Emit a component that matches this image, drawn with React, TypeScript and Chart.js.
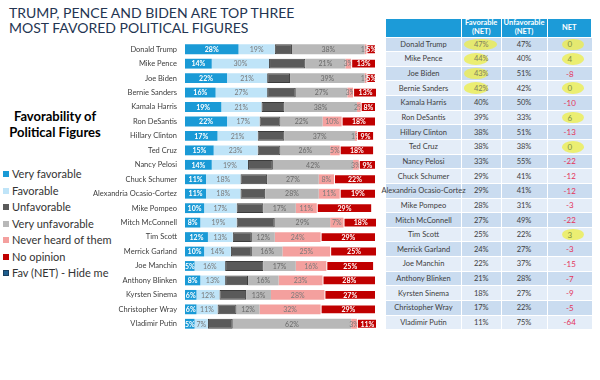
import React, { useEffect, useRef } from "react";
import { Chart, registerables } from "chart.js";
Chart.register(...registerables);

const names = ["Donald Trump","Mike Pence","Joe Biden","Bernie Sanders","Kamala Harris","Ron DeSantis","Hillary Clinton","Ted Cruz","Nancy Pelosi","Chuck Schumer","Alexandria Ocasio-Cortez","Mike Pompeo","Mitch McConnell","Tim Scott","Merrick Garland","Joe Manchin","Anthony Blinken","Kyrsten Sinema","Christopher Wray","Vladimir Putin"];
const veryFavorable = [28,14,22,16,19,22,17,15,14,11,11,10,8,12,10,5,8,6,6,5];
const favorable = [19,30,21,27,21,17,21,23,19,18,18,17,19,13,14,16,13,12,11,7];
const unfavorable = [9,19,12,15,12,11,14,12,13,14,13,14,20,10,11,20,12,14,10,13];
const veryUnfavorable = [38,21,39,27,38,22,37,26,42,27,28,17,29,12,16,17,16,13,12,62];
const neverHeard = [1,3,1,3,2,10,1,5,3,8,11,11,7,24,25,16,23,28,32,3];
const noOpinion = [5,13,5,13,8,18,9,18,9,22,19,29,18,29,25,25,28,27,29,11];
const favNet = [47,44,43,42,40,39,38,38,33,29,29,28,27,25,24,22,21,18,17,11];
const unfavNet = [47,40,51,42,50,33,51,38,55,41,41,31,49,22,27,37,28,27,22,75];
const netScore = [0,4,-8,0,-10,6,-13,0,-22,-12,-12,-3,-22,3,-3,-15,-7,-9,-5,-64];
const seriesNames = ["Very favorable","Favorable","Unfavorable","Very unfavorable","Never heard of them","No opinion","Fav (NET) - Hide me"];
const favHighlight = [0,1,2,3];
const netHighlight = [0,1,3,5,7,13];
const tableHeaders = ["", "Favorable\n(NET)", "Unfavorable\n(NET)", "NET"];

const COLORS = ["#1a9ad6","#bfe4f8","#5a5a5a","#b8b8b8","#f4a09e","#c00000","#1f5f8f"];
const FONT = "Lato, 'Open Sans', sans-serif";

// label style per dataset index: [color, bold]
const labelStyles: Record<number, [string, boolean]> = {
  0: ["#ffffff", true],
  1: ["#7a7a7a", false],
  3: ["#6a6a6a", false],
  4: ["#7a7a7a", false],
  5: ["#ffffff", true],
};

const segLabels = {
  id: "segLabels",
  afterDatasetsDraw(chart: any) {
    const ctx = chart.ctx;
    chart.data.datasets.forEach((ds: any, di: number) => {
      const st = labelStyles[di];
      if (!st) return;
      const meta = chart.getDatasetMeta(di);
      if (meta.hidden) return;
      meta.data.forEach((bar: any, i: number) => {
        const v = ds.data[i];
        if (!v) return;
        const p = bar.getProps(["x", "base", "y"], true);
        const cx = (p.x + p.base) / 2;
        ctx.save();
        if (di === 4) {
          ctx.beginPath();
          ctx.rect(chart.chartArea.left, p.y - 10, p.x - chart.chartArea.left, 20);
          ctx.clip();
        }
        ctx.font = `${st[1] ? "bold " : ""}7px ${FONT}`;
        ctx.fillStyle = st[0];
        ctx.textAlign = "center";
        ctx.textBaseline = "middle";
        ctx.fillText(v + "%", cx, p.y + 0.5);
        ctx.restore();
      });
    });
  },
};

function BarChart() {
  const ref = useRef<HTMLCanvasElement | null>(null);
  useEffect(() => {
    if (!ref.current) return;
    const series = [veryFavorable, favorable, unfavorable, veryUnfavorable, neverHeard, noOpinion];
    const datasets: any[] = series.map((d, i) => ({
      label: seriesNames[i],
      data: d,
      backgroundColor: COLORS[i],
      borderColor: i === 2 ? "#3c3c3c" : i === 5 ? "rgba(255,255,255,0.5)" : COLORS[i],
      borderWidth: i === 2 || i === 5 ? 1 : 0,
      borderSkipped: false,
      stack: "s",
      categoryPercentage: 1,
      barPercentage: 0.68,
    }));
    datasets.push({
      label: seriesNames[6],
      data: favNet,
      backgroundColor: COLORS[6],
      hidden: true,
      stack: "n",
    });
    const chart = new Chart(ref.current, {
      type: "bar",
      data: { labels: names, datasets },
      options: {
        indexAxis: "y",
        responsive: false,
        animation: false,
        layout: { padding: { left: 0, right: 4, top: 42, bottom: 49 } },
        plugins: { legend: { display: false }, tooltip: { enabled: false } },
        scales: {
          x: { stacked: true, min: 0, max: 100, display: false },
          y: {
            stacked: true,
            grid: { display: false, drawTicks: false },
            border: { display: false },
            ticks: { color: "#404040", font: { family: FONT, size: 7.5 }, padding: 8, autoSkip: false },
            afterFit: (s: any) => { s.width = 185; },
          },
        },
      },
      plugins: [segLabels],
    });
    return () => chart.destroy();
  }, []);
  return <canvas ref={ref} width={380} height={380} style={{ position: "absolute", left: 0, top: 0 }} />;
}

function Legend() {
  return (
    <div style={{ position: "absolute", left: 0, top: 0, fontFamily: FONT }}>
      <div style={{ position: "absolute", left: 0, top: 108, width: 110, textAlign: "center", fontWeight: 700, fontSize: 13, lineHeight: "16px", color: "#000" }}>
        Favorability of<br />Political Figures
      </div>
      {seriesNames.map((n, i) => (
        <div key={n} style={{ position: "absolute", left: 3, top: 167 + i * 16.55, whiteSpace: "nowrap", fontSize: 11, lineHeight: "14px", color: "#333" }}>
          <span style={{ display: "inline-block", width: 6, height: 6, background: COLORS[i], border: i === 6 ? "1px solid #1a3f5f" : "none", boxSizing: "border-box", marginRight: 3, verticalAlign: "1px" }} />
          {n}
        </div>
      ))}
    </div>
  );
}

function Table() {
  const widths = [76, 39.5, 46, 44.5];
  const rowH = 14.65;
  const cell = (w: number, extra: any = {}) => ({
    width: w, boxSizing: "border-box" as const, borderRight: "1.5px solid #fff",
    display: "flex", alignItems: "center", justifyContent: "center", position: "relative" as const, ...extra,
  });
  const hl = (w: number, left: number) => (
    <span style={{ position: "absolute", left, top: 1, width: w, height: rowH - 3, borderRadius: "50%", background: "rgba(238,238,70,0.75)" }} />
  );
  return (
    <div style={{ position: "absolute", left: 386, top: 19, width: 206, fontFamily: FONT, fontSize: 7.5, color: "#404040" }}>
      <div style={{ display: "flex", height: 18.5, background: "#1c9bd8", borderBottom: "1.5px solid #fff", boxSizing: "border-box" }}>
        {tableHeaders.map((h, i) => (
          <div key={i} style={cell(widths[i], { color: "#fff", fontWeight: 700, textAlign: "center", whiteSpace: "pre", lineHeight: "8.5px", fontSize: 7.5 })}>{h}</div>
        ))}
      </div>
      {names.map((n, r) => (
        <div key={n} style={{ display: "flex", height: rowH, background: r % 2 === 0 ? "#cadcf0" : "#e4edf8", borderBottom: "1px solid #fff", boxSizing: "border-box" }}>
          <div style={cell(widths[0], { whiteSpace: "nowrap" })}>{n}</div>
          <div style={cell(widths[1], { color: favHighlight.includes(r) ? "#808060" : "#404040" })}>
            {favHighlight.includes(r) ? hl(r === 0 ? 33 : 24, 2) : null}
            <span style={{ position: "relative" }}>{favNet[r]}%</span>
          </div>
          <div style={cell(widths[2])}>{unfavNet[r]}%</div>
          <div style={cell(widths[3], { borderRight: "none", color: netScore[r] < 0 ? "#e3345a" : "#7f9040", fontSize: 8 })}>
            {netHighlight.includes(r) ? hl(22, 14) : null}
            <span style={{ position: "relative" }}>{netScore[r]}</span>
          </div>
        </div>
      ))}
    </div>
  );
}

export default function App() {
  return (
    <div style={{ position: "absolute", left: 0, top: 0, width: 600, height: 380, background: "#fff", overflow: "hidden" }}>
      <div style={{ position: "absolute", left: 9, top: 5, fontFamily: FONT, fontSize: 14, lineHeight: "15px", color: "#243552", letterSpacing: 0 }}>
        TRUMP, PENCE AND BIDEN ARE TOP THREE<br />MOST FAVORED POLITICAL FIGURES
      </div>
      <Legend />
      <BarChart />
      <Table />
    </div>
  );
}
